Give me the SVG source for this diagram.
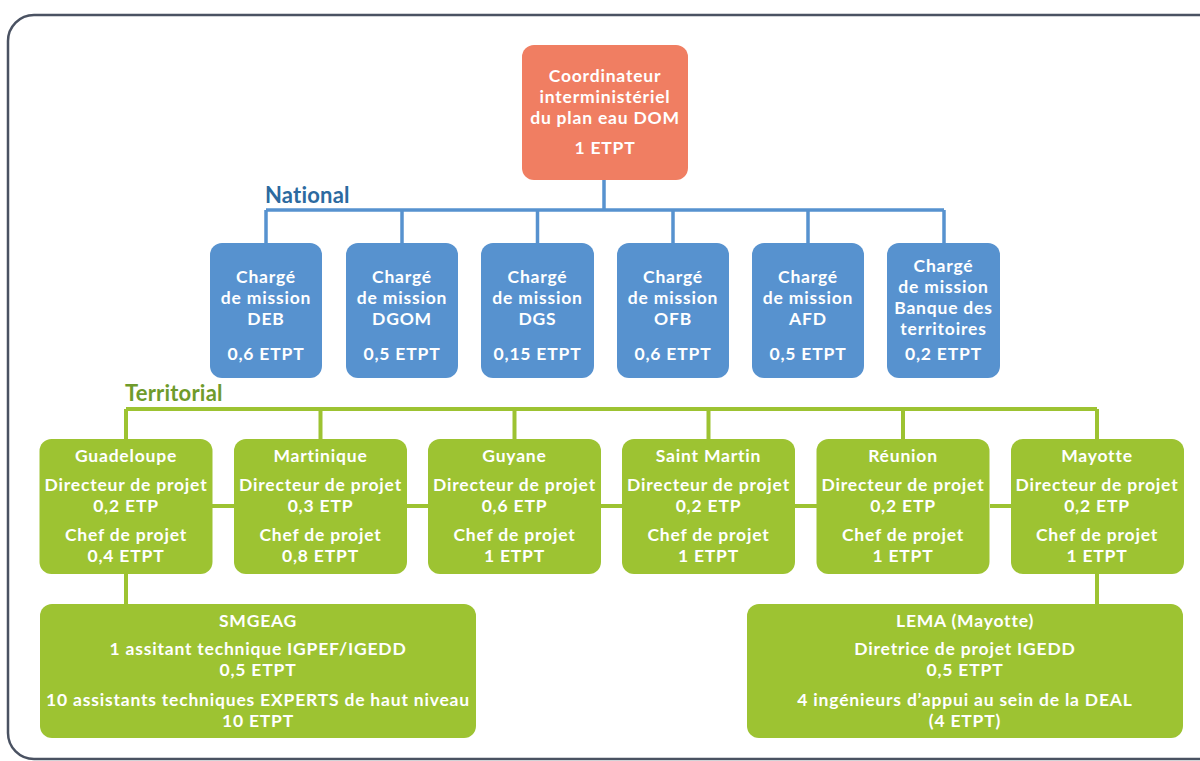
<svg xmlns="http://www.w3.org/2000/svg" width="1200" height="761" viewBox="0 0 1200 761">
<style>
text{font-family:Lato,"Open Sans","Liberation Sans",sans-serif;font-weight:700;font-size:17.5px;letter-spacing:0.8px;fill:#ffffff;text-anchor:middle}
.lbl{font-size:22px;letter-spacing:0.2px;text-anchor:start}
.nat{fill:#2c6aa0}
.ter{fill:#6f9b2c}
.org{fill:#f07e62}
.blue{fill:#5792cf}
.green{fill:#9dc332}
.cb{stroke:#5792cf;stroke-width:3.5;fill:none}
.cg{stroke:#9dc332;stroke-width:4;fill:none}
</style>
<rect x="8" y="15" width="1230" height="744" rx="26" fill="#ffffff" stroke="#4a5262" stroke-width="2.5"/>
<g id="connectors">
<path class="cb" d="M604 180V210M266 210H944M266 210V243M402 210V243M537.5 210V243M673 210V243M808 210V243M944 210V243"/>
<path class="cg" d="M126 409H1097M126 409V439M320.5 409V439M514.5 409V439M708.5 409V439M903 409V439M1097 409V439M212 506H234M407 506H428M601 506H622M795 506H817M990 506H1011M126 574V604M1097 574V604"/>
</g>
<text class="lbl nat" x="265" y="203">National</text>
<text class="lbl ter" x="125" y="401">Territorial</text>
<g id="coordinateur">
<rect class="org" x="522" y="45" width="166" height="135" rx="12"/>
<text x="605" y="82">Coordinateur</text>
<text x="605" y="103">interministériel</text>
<text x="605" y="124">du plan eau DOM</text>
<text x="605" y="154">1 ETPT</text>
</g>
<g id="deb">
<rect class="blue" x="210" y="243" width="112" height="135" rx="12"/>
<text x="266" y="283">Chargé</text><text x="266" y="304">de mission</text><text x="266" y="325">DEB</text><text x="266" y="360">0,6 ETPT</text>
</g>
<g id="dgom">
<rect class="blue" x="346" y="243" width="112" height="135" rx="12"/>
<text x="402" y="283">Chargé</text><text x="402" y="304">de mission</text><text x="402" y="325">DGOM</text><text x="402" y="360">0,5 ETPT</text>
</g>
<g id="dgs">
<rect class="blue" x="481" y="243" width="113" height="135" rx="12"/>
<text x="537.5" y="283">Chargé</text><text x="537.5" y="304">de mission</text><text x="537.5" y="325">DGS</text><text x="537.5" y="360">0,15 ETPT</text>
</g>
<g id="ofb">
<rect class="blue" x="617" y="243" width="112" height="135" rx="12"/>
<text x="673" y="283">Chargé</text><text x="673" y="304">de mission</text><text x="673" y="325">OFB</text><text x="673" y="360">0,6 ETPT</text>
</g>
<g id="afd">
<rect class="blue" x="752" y="243" width="112" height="135" rx="12"/>
<text x="808" y="283">Chargé</text><text x="808" y="304">de mission</text><text x="808" y="325">AFD</text><text x="808" y="360">0,5 ETPT</text>
</g>
<g id="banque">
<rect class="blue" x="887" y="243" width="113" height="135" rx="12"/>
<text x="943.5" y="272">Chargé</text><text x="943.5" y="293">de mission</text><text x="943.5" y="314">Banque des</text><text x="943.5" y="335">territoires</text><text x="943.5" y="360">0,2 ETPT</text>
</g>
<g id="guadeloupe">
<rect class="green" x="39.5" y="439" width="173" height="135" rx="12"/>
<text x="126" y="462">Guadeloupe</text><text x="126" y="491">Directeur de projet</text><text x="126" y="512">0,2 ETP</text><text x="126" y="541">Chef de projet</text><text x="126" y="562">0,4 ETPT</text>
</g>
<g id="martinique">
<rect class="green" x="234" y="439" width="173" height="135" rx="12"/>
<text x="320.5" y="462">Martinique</text><text x="320.5" y="491">Directeur de projet</text><text x="320.5" y="512">0,3 ETP</text><text x="320.5" y="541">Chef de projet</text><text x="320.5" y="562">0,8 ETPT</text>
</g>
<g id="guyane">
<rect class="green" x="428" y="439" width="173" height="135" rx="12"/>
<text x="514.5" y="462">Guyane</text><text x="514.5" y="491">Directeur de projet</text><text x="514.5" y="512">0,6 ETP</text><text x="514.5" y="541">Chef de projet</text><text x="514.5" y="562">1 ETPT</text>
</g>
<g id="saint-martin">
<rect class="green" x="622" y="439" width="173" height="135" rx="12"/>
<text x="708.5" y="462">Saint Martin</text><text x="708.5" y="491">Directeur de projet</text><text x="708.5" y="512">0,2 ETP</text><text x="708.5" y="541">Chef de projet</text><text x="708.5" y="562">1 ETPT</text>
</g>
<g id="reunion">
<rect class="green" x="816.5" y="439" width="173" height="135" rx="12"/>
<text x="903" y="462">Réunion</text><text x="903" y="491">Directeur de projet</text><text x="903" y="512">0,2 ETP</text><text x="903" y="541">Chef de projet</text><text x="903" y="562">1 ETPT</text>
</g>
<g id="mayotte">
<rect class="green" x="1011" y="439" width="173" height="135" rx="12"/>
<text x="1097" y="462">Mayotte</text><text x="1097" y="491">Directeur de projet</text><text x="1097" y="512">0,2 ETP</text><text x="1097" y="541">Chef de projet</text><text x="1097" y="562">1 ETPT</text>
</g>
<g id="smgeag">
<rect class="green" x="40" y="604" width="436" height="134" rx="12"/>
<text x="258" y="627">SMGEAG</text><text x="258" y="655">1 assitant technique IGPEF/IGEDD</text><text x="258" y="676">0,5 ETPT</text><text x="258" y="706">10 assistants techniques EXPERTS de haut niveau</text><text x="258" y="727">10 ETPT</text>
</g>
<g id="lema">
<rect class="green" x="747" y="604" width="436" height="134" rx="12"/>
<text x="965" y="627">LEMA (Mayotte)</text><text x="965" y="655">Diretrice de projet IGEDD</text><text x="965" y="676">0,5 ETPT</text><text x="965" y="706">4 ingénieurs d’appui au sein de la DEAL</text><text x="965" y="727">(4 ETPT)</text>
</g>
</svg>
